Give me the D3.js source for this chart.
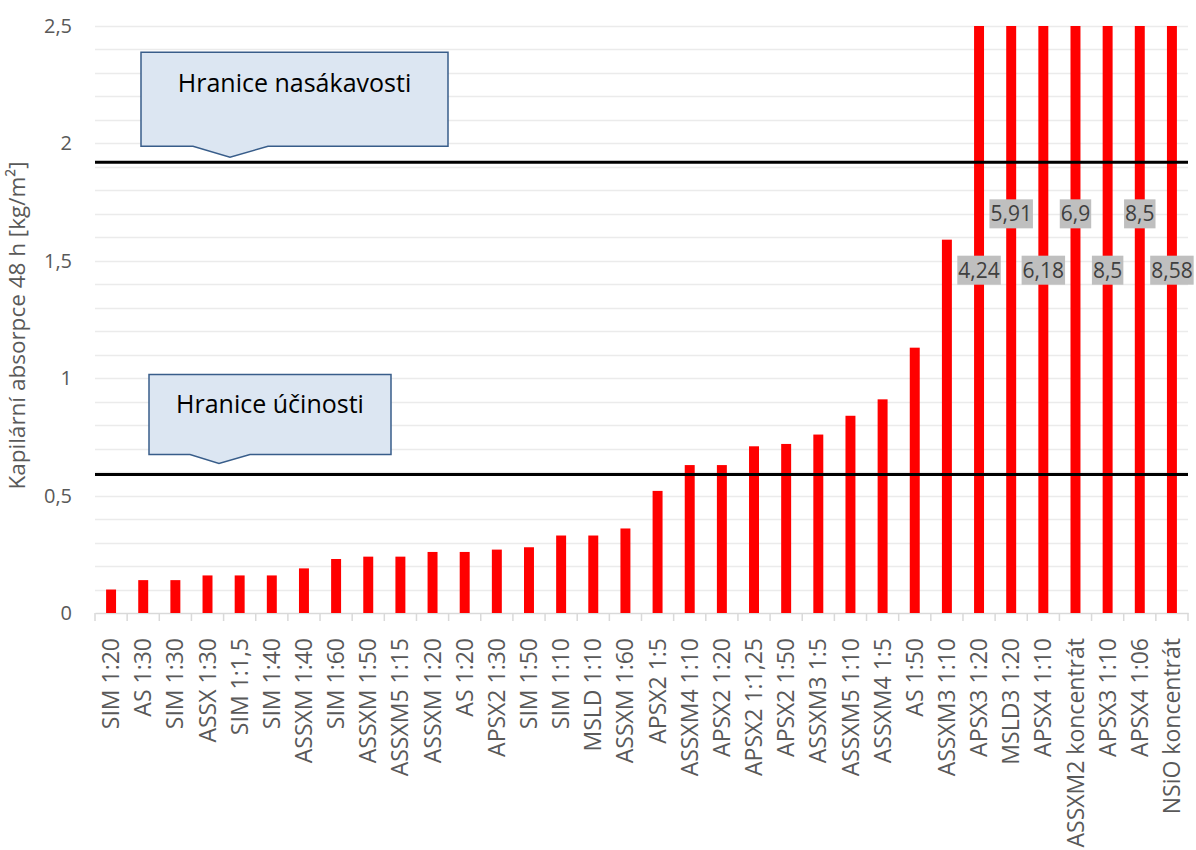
<!DOCTYPE html>
<html><head><meta charset="utf-8">
<script src="https://cdn.jsdelivr.net/npm/d3@7"></script>
<style>
body{margin:0;background:#fff;}
text{font-family:"Open Sans","Noto Sans",sans-serif;}
</style></head>
<body><svg id="c" width="1196" height="850"></svg>
<script>
const categories = ["SIM 1:20","AS 1:30","SIM 1:30","ASSX 1:30","SIM 1:1,5","SIM 1:40","ASSXM 1:40","SIM 1:60","ASSXM 1:50","ASSXM5 1:15","ASSXM 1:20","AS 1:20","APSX2 1:30","SIM 1:50","SIM 1:10","MSLD 1:10","ASSXM 1:60","APSX2 1:5","ASSXM4 1:10","APSX2 1:20","APSX2 1:1,25","APSX2 1:50","ASSXM3 1:5","ASSXM5 1:10","ASSXM4 1:5","AS 1:50","ASSXM3 1:10","APSX3 1:20","MSLD3 1:20","APSX4 1:10","ASSXM2 koncentrát","APSX3 1:10","APSX4 1:06","NSiO koncentrát"];
const values = [0.10,0.14,0.14,0.16,0.16,0.16,0.19,0.23,0.24,0.24,0.26,0.26,0.27,0.28,0.33,0.33,0.36,0.52,0.63,0.63,0.71,0.72,0.76,0.84,0.91,1.13,1.59,4.24,5.91,6.18,6.9,8.5,8.5,8.58];
const yTicks = [0,0.5,1,1.5,2,2.5];
const thresholdValues = [1.92, 0.59];
const thresholdLabels = ["Hranice nasákavosti", "Hranice účinosti"];
const yTitle = "Kapilární absorpce 48 h [kg/m²]";

const FONT = "'Open Sans','Noto Sans',sans-serif";
const svg = d3.select("#c");
const m = {l:95, r:8, t:26, b:237};
const W = 1196, H = 850;
const x = d3.scaleBand().domain(categories).range([m.l, W-m.r]).paddingInner(0.69).paddingOuter(0.345);
const y = d3.scaleLinear().domain([0,2.5]).range([H-m.b, m.t]);
const fmt = v => String(v).replace(".", ",");

// gridlines every 0.1
const grid = d3.range(1,26).map(d=>d/10);
svg.append("g").selectAll("line").data(grid).join("line")
  .attr("x1", m.l).attr("x2", W-m.r)
  .attr("y1", d=>Math.round(y(d))+0.5).attr("y2", d=>Math.round(y(d))+0.5)
  .attr("stroke","#ebebeb").attr("stroke-width",1.5);

// y axis labels
const ya = svg.append("g").attr("transform",`translate(${m.l},0)`)
  .call(d3.axisLeft(y).tickValues(yTicks).tickSize(0).tickPadding(23).tickFormat(fmt));
ya.select(".domain").remove();
ya.selectAll("text").attr("font-size",20).attr("fill","#595959").style("font-family",FONT);

// x axis
const xa = svg.append("g").attr("transform",`translate(0,${y(0)})`)
  .call(d3.axisBottom(x).tickSize(0).tickPadding(0));
xa.select(".domain").attr("stroke","#d9d9d9").attr("stroke-width",1.5);
xa.selectAll("text").attr("font-size",23).attr("fill","#595959")
  .attr("text-anchor","end").attr("dy","0.35em")
  .attr("transform","translate(0,25) rotate(-90)").attr("x",0).attr("y",0)
  .style("font-family",FONT);
// category boundary ticks
const step = x.step();
const bounds = d3.range(categories.length+1).map(i=>m.l + i*step);
svg.append("g").selectAll("line").data(bounds).join("line")
  .attr("x1",d=>d).attr("x2",d=>d).attr("y1",y(0)).attr("y2",y(0)+8)
  .attr("stroke","#d9d9d9").attr("stroke-width",1.5);

// bars (clipped at top of axis)
svg.append("clipPath").attr("id","pc").append("rect")
  .attr("x",m.l).attr("y",m.t).attr("width",W-m.l-m.r).attr("height",y(0)-m.t);
svg.append("g").attr("clip-path","url(#pc)").selectAll("rect").data(values).join("rect")
  .attr("x",(d,i)=>x(categories[i])).attr("width",x.bandwidth())
  .attr("y",d=>y(d)).attr("height",d=>y(0)-y(d))
  .attr("fill","#ff0000");

// threshold lines
svg.append("g").selectAll("line").data(thresholdValues).join("line")
  .attr("x1",m.l).attr("x2",W-m.r).attr("y1",d=>y(d)).attr("y2",d=>y(d))
  .attr("stroke","#000").attr("stroke-width",3);

// data labels for bars beyond the axis
const over = values.map((v,i)=>({v,i})).filter(d=>d.v>2.5);
over.forEach((d,k)=>{
  const cy = k%2===0 ? y(1.46) : y(1.70);
  const cx = x(categories[d.i]) + x.bandwidth()/2;
  const t = svg.append("text").attr("x",cx).attr("y",cy).attr("text-anchor","middle")
    .attr("dy","0.36em").attr("font-size",21).attr("fill","#404040").text(fmt(d.v));
  const bb = t.node().getBBox();
  svg.insert("rect", () => t.node()).attr("x",bb.x-1).attr("y",cy-14.5).attr("width",bb.width+2).attr("height",29)
    .attr("fill","#bfbfbf");
});

// callouts
const callouts = [
  {left:141, right:448, top:y(thresholdValues[0])-110, bottom:y(thresholdValues[0])-16, p1:193, tip:230, p2:268, tipY:y(thresholdValues[0])-5, text:thresholdLabels[0], ty:y(thresholdValues[0])-79},
  {left:149, right:391, top:y(thresholdValues[1])-100, bottom:y(thresholdValues[1])-20, p1:190, tip:219, p2:250, tipY:y(thresholdValues[1])-11, text:thresholdLabels[1], ty:y(thresholdValues[1])-70}
];
callouts.forEach(c=>{
  const p = `M${c.left},${c.top}H${c.right}V${c.bottom}H${c.p2}L${c.tip},${c.tipY}L${c.p1},${c.bottom}H${c.left}Z`;
  svg.append("path").attr("d",p).attr("fill","#dce6f2").attr("stroke","#385d8a").attr("stroke-width",1.5);
  svg.append("text").attr("x",(c.left+c.right)/2).attr("y",c.ty).attr("text-anchor","middle")
    .attr("dy","0.35em").attr("font-size",25).attr("fill","#000").text(c.text);
});

// y title
svg.append("text").attr("transform",`translate(25,${(y(0)+m.t)/2+6}) rotate(-90)`)
  .attr("text-anchor","middle").attr("font-size",22.5).attr("fill","#595959")
  .text(yTitle);
</script></body></html>
